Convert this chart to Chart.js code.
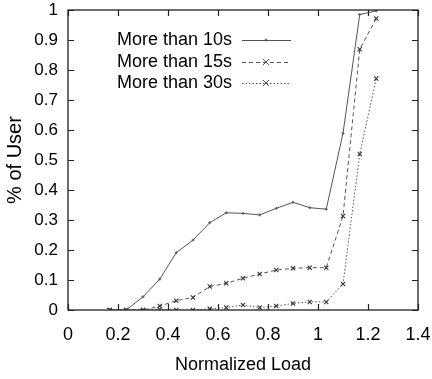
<!DOCTYPE html>
<html>
<head>
<meta charset="utf-8">
<script src="https://cdn.jsdelivr.net/npm/chart.js@4/dist/chart.umd.min.js"></script>
<style>
html,body{margin:0;padding:0;background:#fff;}
#wrap{width:432px;height:379px;}
</style>
</head>
<body>
<div id="wrap"><canvas id="c" width="432" height="379"></canvas></div>
<script>
const loads = [0.167,0.233,0.300,0.367,0.433,0.500,0.567,0.633,0.700,0.767,0.833,0.900,0.967,1.033,1.100,1.167,1.233];
const over10 = [0,0,0.044,0.103,0.191,0.233,0.291,0.324,0.322,0.317,0.339,0.359,0.341,0.336,0.589,0.985,0.997];
const over15 = [0,0,0,0.013,0.031,0.042,0.078,0.089,0.106,0.120,0.133,0.139,0.141,0.141,0.313,0.869,0.972];
const over30 = [0,0,0,0.002,0,0,0.004,0.008,0.017,0.008,0.013,0.022,0.027,0.027,0.087,0.520,0.772];
const seriesNames = ['More than 10s','More than 15s','More than 30s'];
const xTicks = [0,0.2,0.4,0.6,0.8,1,1.2,1.4];
const yTicks = [0,0.1,0.2,0.3,0.4,0.5,0.6,0.7,0.8,0.9,1];

const FONT = '"Liberation Sans", Arial, Helvetica, sans-serif';
const LINE = '#555';

function pts(vals){ return loads.map((x,i)=>({x:x,y:vals[i]})); }

const frame = {
  id:'frame',
  afterDatasetsDraw(chart){
    const {ctx, chartArea:a, scales:{x,y}} = chart;
    ctx.save();
    ctx.strokeStyle = '#222';
    ctx.lineWidth = 1.3;
    ctx.strokeRect(a.left, a.top, a.right-a.left, a.bottom-a.top);
    ctx.lineWidth = 1.2;
    const L = 6;
    ctx.beginPath();
    xTicks.forEach(v=>{
      const px = Math.round(x.getPixelForValue(v))+0.5;
      ctx.moveTo(px,a.bottom); ctx.lineTo(px,a.bottom-L);
      ctx.moveTo(px,a.top); ctx.lineTo(px,a.top+L);
    });
    yTicks.forEach(v=>{
      const py = Math.round(y.getPixelForValue(v))+0.5;
      ctx.moveTo(a.left,py); ctx.lineTo(a.left+L,py);
      ctx.moveTo(a.right,py); ctx.lineTo(a.right-L,py);
    });
    ctx.stroke();
    // legend
    const rows = [40,62,83];
    ctx.font = '18px ' + FONT;
    ctx.textAlign = 'right';
    ctx.textBaseline = 'middle';
    chart.data.datasets.forEach((ds,i)=>{
      const yy = rows[i];
      ctx.fillStyle = '#000';
      ctx.fillText(ds.label, 232, yy);
      ctx.strokeStyle = ds.borderColor;
      ctx.lineWidth = ds.borderWidth;
      ctx.setLineDash(ds.borderDash || []);
      ctx.beginPath(); ctx.moveTo(242,yy+0.5); ctx.lineTo(291,yy+0.5); ctx.stroke();
      ctx.setLineDash([]);
      const r = ds.pointRadius;
      ctx.lineWidth = 1;
      ctx.beginPath();
      if (ds.pointStyle==='crossRot'){
        ctx.moveTo(266-r,yy-r); ctx.lineTo(266+r,yy+r);
        ctx.moveTo(266-r,yy+r); ctx.lineTo(266+r,yy-r);
      } else {
        ctx.moveTo(266-r,yy); ctx.lineTo(266+r,yy);
        ctx.moveTo(266,yy-r); ctx.lineTo(266,yy+r);
      }
      ctx.stroke();
    });
    ctx.restore();
  }
};

function zeroPad(s){ s.paddingTop=0; s.paddingBottom=0; s.paddingLeft=0; s.paddingRight=0; }

new Chart(document.getElementById('c'), {
  type:'line',
  data:{
    datasets:[
      {label:seriesNames[0], data:pts(over10), borderColor:LINE, borderWidth:1, pointStyle:'cross', pointRadius:1.5, pointBorderColor:LINE, pointBorderWidth:1, tension:0},
      {label:seriesNames[1], data:pts(over15), borderColor:LINE, borderWidth:1, borderDash:[4,3], pointStyle:'crossRot', pointRadius:3, pointBorderColor:'#333', pointBorderWidth:1.1, tension:0},
      {label:seriesNames[2], data:pts(over30), borderColor:LINE, borderWidth:1, borderDash:[1.5,2], pointStyle:'crossRot', pointRadius:3, pointBorderColor:'#333', pointBorderWidth:1.1, tension:0}
    ]
  },
  options:{
    responsive:false,
    animation:false,
    layout:{padding:{top:10,right:14,left:0,bottom:0}},
    plugins:{legend:{display:false}, tooltip:{enabled:false}},
    elements:{line:{fill:false}},
    scales:{
      x:{
        type:'linear', min:0, max:1.4,
        afterBuildTicks(s){ s.ticks = xTicks.map(v=>({value:v})); },
        afterFit(s){ s.height = 69; zeroPad(s); },
        grid:{display:false, drawTicks:false},
        border:{display:false},
        ticks:{color:'#000', padding:14, maxRotation:0, font:{family:FONT,size:18}, callback:(v)=>String(v)},
        title:{display:true, text:'Normalized Load', color:'#000', font:{family:FONT,size:18}, padding:{top:0,bottom:3}}
      },
      y:{
        type:'linear', min:0, max:1,
        afterBuildTicks(s){ s.ticks = yTicks.map(v=>({value:v})); },
        afterFit(s){ s.width = 68; zeroPad(s); },
        grid:{display:false, drawTicks:false},
        border:{display:false},
        ticks:{color:'#000', padding:10, font:{family:FONT,size:17}, callback:(v)=>String(v)},
        title:{display:true, text:'% of User', color:'#000', font:{family:FONT,size:20}, padding:{top:3,bottom:0}}
      }
    }
  },
  plugins:[frame]
});
</script>
</body>
</html>
